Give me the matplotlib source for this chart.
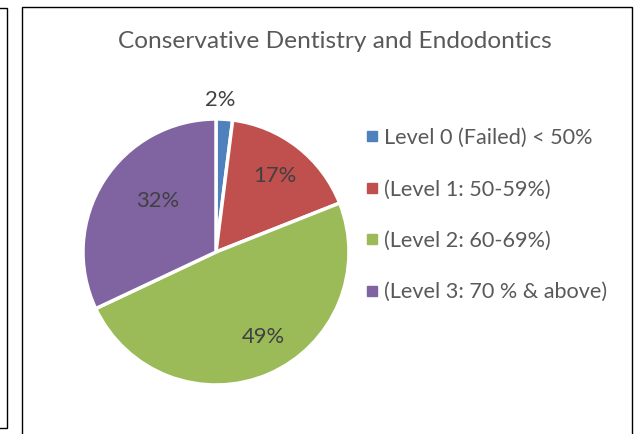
import matplotlib.pyplot as plt
import numpy as np
from matplotlib.lines import Line2D
from matplotlib.patches import Rectangle

plt.rcParams['font.family'] = ['Lato', 'DejaVu Sans']

# data
categories = ["Level 0 (Failed) < 50%", "(Level 1: 50-59%)",
              "(Level 2: 60-69%)", "(Level 3: 70 % & above)"]
values = [2, 17, 49, 32]
colors = ["#4F81BD", "#C0504D", "#9BBB59", "#8064A2"]
title = "Conservative Dentistry and Endodontics"

# label placement (radius as fraction of pie radius, angle shift in degrees)
lab_r = [1.14, 0.72, 0.73, 0.58]
lab_shift = [2, 0, 6, -9]

W, H = 641, 434
fig = plt.figure(figsize=(W / 100, H / 100), dpi=100)

# chart frames
fig.patches.append(Rectangle((22 / W, -0.05), (632 - 22) / W, 1.05 - 7 / H,
                             transform=fig.transFigure, fill=False,
                             edgecolor="black", lw=1.0))
fig.patches.append(Rectangle((-10 / W, 1 - 428 / H), 17 / W, (428 - 8) / H,
                             transform=fig.transFigure, fill=False,
                             edgecolor="black", lw=1.0))

cx, cy, r = 216, 252, 133
ax = fig.add_axes([(cx - r) / W, (H - cy - r) / H, 2 * r / W, 2 * r / H])
wedges, _ = ax.pie(values, colors=colors, startangle=90, counterclock=False,
                   radius=1, wedgeprops=dict(edgecolor="white", linewidth=2.5))
ax.set_xlim(-1, 1)
ax.set_ylim(-1, 1)
ax.set_aspect("equal")
ax.axis("off")

for w, v, rr, sh in zip(wedges, values, lab_r, lab_shift):
    ang = np.deg2rad((w.theta1 + w.theta2) / 2 + sh)
    ax.text(rr * np.cos(ang), rr * np.sin(ang), f"{v}%", ha="center",
            va="center", fontsize=15.8, color="#404040", clip_on=False)

fig.text(335 / W, 1 - 42 / H, title, ha="center", va="center",
         fontsize=17.6, color="#595959")

handles = [Line2D([], [], marker="s", linestyle="none", markersize=6.5,
                  color=c) for c in colors]
leg = fig.legend(handles, categories, loc="upper left",
                 bbox_to_anchor=(365 / W, 1 - 128 / H), frameon=False,
                 fontsize=15.6, labelspacing=1.45, handlelength=0.6,
                 handletextpad=0.3, borderaxespad=0, borderpad=0)
for t in leg.get_texts():
    t.set_color("#595959")

fig.savefig("out.png", dpi=100)
